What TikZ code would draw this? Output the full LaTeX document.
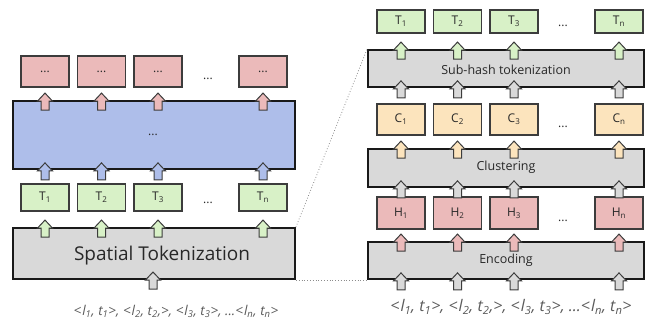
\documentclass[tikz,border=0pt]{standalone}
\usepackage{fontspec}
\setmainfont{Open Sans}
\definecolor{pinkF}{RGB}{235,186,186}
\definecolor{blueF}{RGB}{174,190,234}
\definecolor{greenF}{RGB}{216,241,199}
\definecolor{orangeF}{RGB}{252,228,189}
\definecolor{grayF}{RGB}{217,217,217}
\definecolor{edgeC}{RGB}{60,60,60}
\definecolor{seqC}{RGB}{90,90,90}
\definecolor{txtC}{RGB}{40,40,40}
\tikzset{
  tok/.style={draw=edgeC, line width=1.1pt, minimum width=48pt, inner sep=0pt, text=txtC, font=\fontsize{12}{13}\selectfont},
  layer/.style={draw=black!90, line width=1.8pt, inner sep=0pt},
  arrline/.style={draw=edgeC, line width=1pt, line join=miter},
  uparr/.pic={\path[arrline, fill=#1] (-4,10) -- (-4,1) -- (-7.5,1) -- (0,-7) -- (7.5,1) -- (4,1) -- (4,10) -- cycle;},
  gap/.style={text=txtC, font=\fontsize{12}{13}\selectfont},
  seq/.style={text=seqC, font=\itshape},
  zoomline/.style={draw=black!45, line width=0.8pt, dotted}
}
\begin{document}
\begin{tikzpicture}[x=1pt,y=-1pt]
\useasboundingbox (0,0) rectangle (658,325);
% ---------------- left ----------------
\foreach \n/\x in {1/45,2/101.5,3/158,4/263}{
  \node[tok, fill=pinkF, minimum height=31pt] (r\n) at (\x,71.5) {...};
}
\node[gap] (rdots) at (208,79) {...};
\node[layer, fill=blueF, minimum width=282pt, minimum height=68pt] (blue) at (154,135) {};
\node[gap] (bdots) at (153,135) {...};
\foreach \n/\x/\s in {1/45/1,2/101.5/2,3/158/3,4/263/n}{
  \node[tok, fill=greenF, minimum height=27pt] (g\n) at (\x,197.5) {T\textsubscript{\s}};
}
\node[gap] (gdots) at (208,203) {...};
\node[layer, fill=grayF, minimum width=282pt, minimum height=51pt] (spt) at (154,253.5) {};
\node[text=txtC, font=\fontsize{19}{21}\selectfont] (sptlab) at (162,256) {Spatial Tokenization};
\foreach \n in {1,...,4}{
  \pic at (g\n |- blue.north) {uparr=pinkF};
  \pic at (g\n |- blue.south) {uparr=blueF};
  \pic at (g\n |- spt.north) {uparr=greenF};
}
\pic at (153,279) {uparr=grayF};
\node[seq, font=\itshape\fontsize{13.5}{15}\selectfont] (lseq) at (176,311) {<\kern1pt l\textsubscript{1}, t\textsubscript{1}>, <\kern1pt l\textsubscript{2}, t\textsubscript{2},>, <\kern1pt l\textsubscript{3}, t\textsubscript{3}>, ...<\kern1pt l\textsubscript{n}, t\textsubscript{n}>};
% ---------------- right ----------------
\foreach \n/\x/\s in {1/401/1,2/457.5/2,3/514/3,4/619/n}{
  \node[tok, fill=greenF, minimum height=23pt] (t\n) at (\x,21.5) {T\textsubscript{\s}};
  \node[tok, fill=orangeF, minimum height=31pt] (c\n) at (\x,119.5) {C\textsubscript{\s}};
  \node[tok, fill=pinkF, minimum height=32pt] (h\n) at (\x,213) {H\textsubscript{\s}};
}
\node[gap] (tdots) at (563,26) {...};
\node[gap] (cdots) at (563,127) {...};
\node[gap] (hdots) at (563,221) {...};
\node[layer, fill=grayF, minimum width=276pt, minimum height=37pt] (sub) at (506,68.5) {};
\node[text=txtC, font=\fontsize{12.5}{14}\selectfont] (sublab) at (506,70) {Sub-hash tokenization};
\node[layer, fill=grayF, minimum width=276pt, minimum height=38pt] (clu) at (506,168) {};
\node[text=txtC, font=\fontsize{12.5}{14}\selectfont] (clulab) at (506,167) {Clustering};
\node[layer, fill=grayF, minimum width=276pt, minimum height=37pt] (enc) at (506,260.5) {};
\node[text=txtC, font=\fontsize{12.5}{14}\selectfont] (enclab) at (506,260) {Encoding};
\foreach \n in {1,...,4}{
  \pic at (t\n |- sub.north) {uparr=greenF};
  \pic at (t\n |- sub.south) {uparr=grayF};
  \pic at (t\n |- clu.north) {uparr=orangeF};
  \pic at (t\n |- clu.south) {uparr=grayF};
  \pic at (t\n |- enc.north) {uparr=pinkF};
  \pic at (t\n |- enc.south) {uparr=grayF};
}
\node[seq, font=\itshape\fontsize{16}{18}\selectfont] (rseq) at (511,307) {<\kern1pt l\textsubscript{1}, t\textsubscript{1}>, <\kern1pt l\textsubscript{2}, t\textsubscript{2},>, <\kern1pt l\textsubscript{3}, t\textsubscript{3}>, ...<\kern1pt l\textsubscript{n}, t\textsubscript{n}>};
% zoom lines
\draw[zoomline] (spt.north east) -- (sub.north west);
\draw[zoomline] (spt.south east) -- (enc.south west);
\end{tikzpicture}
\end{document}
